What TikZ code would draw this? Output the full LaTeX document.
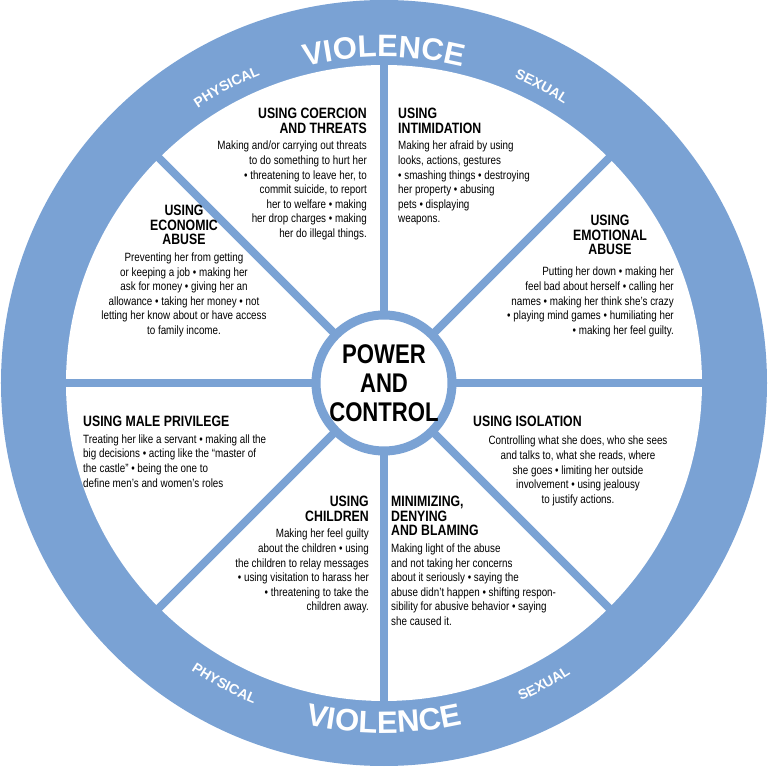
\documentclass[tikz,border=0pt]{standalone}
\usepackage{fontspec}
\setmainfont{Liberation Sans}
\newfontfamily\condfont[FakeStretch=0.82]{Liberation Sans}
\usetikzlibrary{decorations.text}
\definecolor{wheelblue}{RGB}{122,162,212}
\newcommand{\headfnt}{\fontsize{15}{16}\selectfont\bfseries}
\newcommand{\bodyfnt}{\fontsize{12}{14.6}\selectfont\mdseries}
\tikzset{
  body/.style={font=\condfont\bodyfnt, inner sep=0pt},
  ringtext/.style={decorate, decoration={text along path, text align=center, text color=white}},
}
\begin{document}
\begin{tikzpicture}[x=1pt,y=1pt]
\useasboundingbox (-384,-384) rectangle (384,383);
\fill[wheelblue] (0,0) circle (383);
\fill[white] (0,0) circle (318);
\foreach \a in {0,45,...,315}
  \draw[wheelblue,line width=8] (\a:60) -- (\a:320);
\node[circle,draw=wheelblue,line width=9,fill=white,minimum size=136,inner sep=0pt,
  font=\condfont\fontsize{27}{29}\selectfont\bfseries,align=center] (center) at (0,0) {POWER\\AND\\CONTROL};
\path[ringtext, decoration={text={|\fontsize{31}{31}\selectfont\bfseries|VIOLENCE}}]
  (180:326) arc[start angle=180,end angle=0,radius=326];
\path[ringtext, decoration={text={|\fontsize{31}{31}\selectfont\bfseries|VIOLENCE}}]
  (180:350) arc[start angle=180,end angle=360,radius=350];
\path[ringtext, decoration={text={|\fontsize{14}{14}\selectfont\bfseries|PHYSICAL}}]
  (140:332) arc[start angle=140,end angle=96,radius=332];
\path[ringtext, decoration={text={|\fontsize{14}{14}\selectfont\bfseries|SEXUAL}}]
  (80:332) arc[start angle=80,end angle=44,radius=332];
\path[ringtext, decoration={text={|\fontsize{14}{14}\selectfont\bfseries|PHYSICAL}}]
  (220:346) arc[start angle=220,end angle=264,radius=346];
\path[ringtext, decoration={text={|\fontsize{14}{14}\selectfont\bfseries|SEXUAL}}]
  (280:346) arc[start angle=280,end angle=316,radius=346];
\node[body,align=right,anchor=north east] (coercion) at (-17,275) {\headfnt USING COERCION\\\headfnt AND THREATS\\[2pt]\bodyfnt Making and/or carrying out threats\\to do something to hurt her\\• threatening to leave her, to\\commit suicide, to report\\her to welfare • making\\her drop charges • making\\her do illegal things.};
\node[body,align=left,anchor=north west] (intim) at (14,275) {\headfnt USING\\\headfnt INTIMIDATION\\[2pt]\bodyfnt Making her afraid by using\\looks, actions, gestures\\• smashing things • destroying\\her property • abusing\\pets • displaying\\weapons.};
\node[body,align=center,anchor=north] (econ) at (-200,178) {\headfnt USING\\\headfnt ECONOMIC\\\headfnt ABUSE\\[2pt]\bodyfnt Preventing her from getting\\or keeping a job • making her\\ask for money • giving her an\\allowance • taking her money • not\\letting her know about or have access\\to family income.};
\node[body,align=center,anchor=north] (emothead) at (226,168) {\headfnt USING\\\headfnt EMOTIONAL\\\headfnt ABUSE};
\node[body,align=right,anchor=north east] (emot) at (290,116) {Putting her down • making her\\feel bad about herself • calling her\\names • making her think she’s crazy\\• playing mind games • humiliating her\\• making her feel guilty.};
\node[body,align=left,anchor=north west] (male) at (-301,-33) {\headfnt USING MALE PRIVILEGE\\[2pt]\bodyfnt Treating her like a servant • making all the\\big decisions • acting like the “master of\\the castle” • being the one to\\define men’s and women’s roles};
\node[body,anchor=north west] (isolhead) at (89,-33) {\headfnt USING ISOLATION};
\node[body,align=center,anchor=north] (isol) at (194,-53) {Controlling what she does, who she sees\\and talks to, what she reads, where\\she goes • limiting her outside\\involvement • using jealousy\\to justify actions.};
\node[body,align=right,anchor=north east] (child) at (-15,-113) {\headfnt USING\\\headfnt CHILDREN\\[2pt]\bodyfnt Making her feel guilty\\about the children • using\\the children to relay messages\\• using visitation to harass her\\• threatening to take the\\children away.};
\node[body,align=left,anchor=north west] (minim) at (7,-113) {\headfnt MINIMIZING,\\\headfnt DENYING\\\headfnt AND BLAMING\\[2pt]\bodyfnt Making light of the abuse\\and not taking her concerns\\about it seriously • saying the\\abuse didn’t happen • shifting respon-\\sibility for abusive behavior • saying\\she caused it.};
\end{tikzpicture}
\end{document}
